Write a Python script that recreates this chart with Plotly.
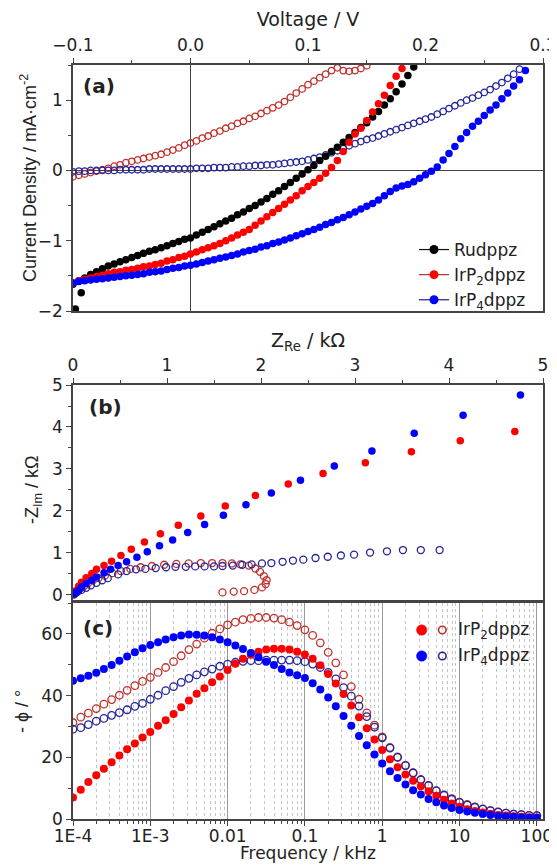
import plotly.graph_objects as go

# ---------------- Panel (a): J-V data ----------------
voltage_V = [
    -0.100, -0.095, -0.090, -0.085, -0.080, -0.075, -0.070, -0.065, -0.060, -0.055,
    -0.050, -0.045, -0.040, -0.035, -0.030, -0.025, -0.020, -0.015, -0.010, -0.005,
    0.000, 0.005, 0.010, 0.015, 0.020, 0.025, 0.030, 0.035, 0.040, 0.045,
    0.050, 0.055, 0.060, 0.065, 0.070, 0.075, 0.080, 0.085, 0.090, 0.095,
    0.100, 0.105, 0.110, 0.115, 0.120, 0.125, 0.130, 0.135, 0.140, 0.145,
    0.150, 0.155, 0.160, 0.165, 0.170, 0.175, 0.180, 0.185, 0.190, 0.195,
    0.200, 0.205, 0.210, 0.215, 0.220, 0.225, 0.230, 0.235, 0.240, 0.245,
    0.250, 0.255, 0.260, 0.265, 0.270, 0.275, 0.280, 0.285,
]

ru_start_V = [-0.098, -0.093]
ru_start_J = [-1.97, -1.74]

ru_J = [
    -1.62, -1.57, -1.53, -1.48, -1.44, -1.40, -1.36, -1.33, -1.30, -1.27,
    -1.24, -1.21, -1.18, -1.15, -1.13, -1.10, -1.07, -1.04, -1.01, -0.98,
    -0.96, -0.92, -0.88, -0.84, -0.80, -0.76, -0.72, -0.68, -0.63, -0.59,
    -0.54, -0.50, -0.45, -0.40, -0.34, -0.29, -0.23, -0.17, -0.11, -0.05,
    0.01, 0.07, 0.14, 0.20, 0.27, 0.33, 0.40, 0.47, 0.54, 0.61,
    0.68, 0.76, 0.84, 0.93, 1.02, 1.12, 1.23, 1.35, 1.47,
]

irp2_filled_J = [
    -1.60, -1.57, -1.55, -1.53, -1.51, -1.49, -1.47, -1.45, -1.44, -1.42,
    -1.41, -1.39, -1.37, -1.36, -1.34, -1.32, -1.29, -1.27, -1.24, -1.22,
    -1.19, -1.16, -1.13, -1.10, -1.07, -1.04, -1.00, -0.96, -0.92, -0.88,
    -0.84, -0.78, -0.72, -0.66, -0.60, -0.54, -0.48, -0.42, -0.36, -0.29,
    -0.23, -0.17, -0.11, -0.04, 0.04, 0.14, 0.27, 0.40, 0.52, 0.60,
    0.71, 0.83, 0.95, 1.07, 1.21, 1.34, 1.45,
]

irp2_open_J = [
    -0.09, -0.07, -0.05, -0.03, -0.01, 0.01, 0.03, 0.06, 0.08, 0.11,
    0.13, 0.15, 0.17, 0.19, 0.21, 0.23, 0.26, 0.29, 0.32, 0.36,
    0.39, 0.42, 0.46, 0.49, 0.53, 0.56, 0.60, 0.63, 0.67, 0.70,
    0.74, 0.77, 0.81, 0.85, 0.89, 0.93, 0.98, 1.04, 1.10, 1.16,
    1.22, 1.27, 1.32, 1.37, 1.42, 1.46, 1.42, 1.41, 1.42, 1.45,
    1.49,
]

irp4_filled_J = [
    -1.60, -1.58, -1.57, -1.56, -1.55, -1.54, -1.53, -1.52, -1.51, -1.50,
    -1.49, -1.48, -1.47, -1.45, -1.44, -1.43, -1.41, -1.39, -1.38, -1.36,
    -1.35, -1.33, -1.31, -1.29, -1.27, -1.25, -1.23, -1.21, -1.19, -1.16,
    -1.14, -1.12, -1.09, -1.07, -1.04, -1.02, -0.99, -0.96, -0.93, -0.90,
    -0.87, -0.84, -0.81, -0.77, -0.74, -0.70, -0.67, -0.63, -0.59, -0.55,
    -0.51, -0.47, -0.42, -0.36, -0.30, -0.25, -0.22, -0.20, -0.16, -0.11,
    -0.06, -0.01, 0.05, 0.15, 0.24, 0.34, 0.45, 0.54, 0.63, 0.70,
    0.78, 0.86, 0.93, 1.02, 1.10, 1.20, 1.29, 1.42,
]

irp4_open_J = [
    -0.02, -0.01, -0.01, 0.00, 0.00, 0.00, 0.00, 0.00, 0.01, 0.01,
    0.01, 0.01, 0.01, 0.02, 0.02, 0.02, 0.02, 0.02, 0.02, 0.02,
    0.02, 0.03, 0.03, 0.03, 0.04, 0.04, 0.04, 0.05, 0.05, 0.06,
    0.06, 0.07, 0.07, 0.08, 0.08, 0.09, 0.10, 0.11, 0.12, 0.13,
    0.15, 0.17, 0.19, 0.22, 0.25, 0.28, 0.31, 0.35, 0.38, 0.41,
    0.44, 0.46, 0.49, 0.52, 0.55, 0.58, 0.61, 0.64, 0.67, 0.70,
    0.73, 0.76, 0.80, 0.84, 0.88, 0.92, 0.96, 1.00, 1.03, 1.07,
    1.11, 1.15, 1.20, 1.25, 1.31, 1.37, 1.44,
]

# ---------------- Panel (b): Nyquist data (kOhm) ----------------
irp2_filled_zre = [0.01, 0.03, 0.06, 0.09, 0.14, 0.20, 0.25, 0.33, 0.41, 0.51,
                   0.62, 0.76, 0.93, 1.12, 1.36, 1.62, 1.94, 2.29, 2.66, 3.11,
                   3.60, 4.12, 4.70]
irp2_filled_zim = [0.03, 0.10, 0.21, 0.30, 0.41, 0.51, 0.61, 0.70, 0.80, 0.94,
                   1.09, 1.26, 1.46, 1.66, 1.88, 2.12, 2.37, 2.64, 2.89, 3.15,
                   3.41, 3.67, 3.89]

irp4_filled_zre = [0.01, 0.03, 0.06, 0.09, 0.14, 0.20, 0.25, 0.33, 0.40, 0.48,
                   0.57, 0.68, 0.79, 0.92, 1.06, 1.22, 1.40, 1.60, 1.84, 2.11,
                   2.42, 2.78, 3.18, 3.63, 4.15, 4.76]
irp4_filled_zim = [0.02, 0.05, 0.11, 0.19, 0.27, 0.35, 0.43, 0.53, 0.61, 0.70,
                   0.79, 0.90, 1.03, 1.17, 1.31, 1.49, 1.68, 1.90, 2.15, 2.43,
                   2.73, 3.07, 3.43, 3.85, 4.28, 4.76]

irp2_open_zre = [0.01, 0.02, 0.04, 0.06, 0.09, 0.12, 0.16, 0.21, 0.27, 0.34,
                 0.42, 0.51, 0.61, 0.72, 0.84, 0.97, 1.10, 1.23, 1.36, 1.48,
                 1.59, 1.69, 1.78, 1.87, 1.94, 1.99, 2.03, 2.06, 2.05, 2.01,
                 1.93, 1.82, 1.71, 1.59]
irp2_open_zim = [0.01, 0.04, 0.08, 0.12, 0.17, 0.22, 0.28, 0.34, 0.40, 0.46,
                 0.52, 0.57, 0.62, 0.66, 0.69, 0.72, 0.74, 0.75, 0.76, 0.76,
                 0.76, 0.75, 0.73, 0.70, 0.63, 0.55, 0.45, 0.35, 0.26, 0.18,
                 0.12, 0.09, 0.08, 0.06]

irp4_open_zre = [0.01, 0.03, 0.05, 0.09, 0.14, 0.19, 0.25, 0.31, 0.37, 0.48,
                 0.57, 0.67, 0.77, 0.88, 0.99, 1.09, 1.20, 1.30, 1.40, 1.50,
                 1.59, 1.70, 1.80, 1.90, 2.01, 2.11, 2.23, 2.34, 2.45, 2.58,
                 2.71, 2.85, 2.99, 3.16, 3.34, 3.51, 3.70, 3.90]
irp4_open_zim = [0.02, 0.05, 0.08, 0.12, 0.17, 0.23, 0.29, 0.35, 0.40, 0.49,
                 0.57, 0.61, 0.62, 0.64, 0.66, 0.67, 0.67, 0.68, 0.68, 0.68,
                 0.69, 0.70, 0.72, 0.73, 0.75, 0.76, 0.79, 0.82, 0.84, 0.88,
                 0.91, 0.94, 0.96, 1.01, 1.04, 1.07, 1.07, 1.07]

# ---------------- Panel (c): Bode phase data ----------------
freq_kHz = [
    1.00e-4, 1.26e-4, 1.58e-4, 2.00e-4, 2.51e-4, 3.16e-4, 3.98e-4, 5.01e-4, 6.31e-4, 7.94e-4,
    1.00e-3, 1.26e-3, 1.58e-3, 2.00e-3, 2.51e-3, 3.16e-3, 3.98e-3, 5.01e-3, 6.31e-3, 7.94e-3,
    1.00e-2, 1.26e-2, 1.58e-2, 2.00e-2, 2.51e-2, 3.16e-2, 3.98e-2, 5.01e-2, 6.31e-2, 7.94e-2,
    1.00e-1, 1.26e-1, 1.58e-1, 2.00e-1, 2.51e-1, 3.16e-1, 3.98e-1, 5.01e-1, 6.31e-1, 7.94e-1,
    1.00, 1.26, 1.58, 2.00, 2.51, 3.16, 3.98, 5.01, 6.31, 7.94,
    10.0, 12.6, 15.8, 20.0, 25.1, 31.6, 39.8, 50.1, 63.1, 79.4,
    100.0,
]

irp2_filled_phase = [
    7.0, 9.5, 12.0, 14.2, 16.3, 18.4, 20.6, 22.6, 24.5, 26.4,
    28.2, 30.2, 32.0, 34.0, 36.2, 38.4, 40.6, 42.4, 44.3, 46.2,
    48.3, 50.3, 51.9, 53.2, 54.2, 54.9, 55.2, 55.2, 54.9, 54.2,
    53.3, 51.9, 49.8, 47.0, 43.9, 40.5, 36.8, 33.0, 29.4, 25.8,
    22.4, 19.4, 16.8, 14.4, 12.4, 10.6, 9.0, 7.5, 6.2, 5.0,
    4.0, 3.2, 2.6, 2.1, 1.7, 1.3, 1.1, 0.9, 0.7, 0.6,
    0.5,
]
irp2_open_phase = [
    31.2, 33.0, 34.3, 35.8, 37.2, 38.7, 40.1, 41.7, 43.2, 44.6,
    45.9, 47.5, 49.1, 51.0, 52.9, 54.9, 56.7, 58.6, 60.2, 61.6,
    62.9, 63.8, 64.6, 65.0, 65.3, 65.3, 65.1, 64.6, 63.8, 62.7,
    61.3, 59.5, 57.1, 54.0, 50.6, 46.7, 42.9, 38.8, 34.4, 30.4,
    26.6, 23.2, 20.1, 17.4, 15.0, 12.8, 10.9, 9.2, 7.8, 6.6,
    5.5, 4.7, 3.9, 3.3, 2.7, 2.3, 1.9, 1.6, 1.4, 1.2,
    1.1,
]
irp4_filled_phase = [
    44.8, 45.6, 46.4, 47.4, 48.6, 49.9, 51.3, 52.7, 54.0, 55.3,
    56.4, 57.3, 58.2, 58.9, 59.5, 59.8, 59.7, 59.5, 58.9, 58.2,
    57.3, 56.2, 55.1, 53.8, 52.4, 51.0, 49.9, 48.6, 47.5, 46.6,
    45.7, 44.0, 42.0, 39.4, 36.5, 33.4, 30.2, 26.9, 23.9, 20.9,
    18.0, 15.5, 13.3, 11.2, 9.3, 7.9, 6.5, 5.4, 4.4, 3.6,
    2.9, 2.4, 2.0, 1.6, 1.3, 1.0, 0.8, 0.7, 0.5, 0.4,
    0.4,
]
irp4_open_phase = [
    29.1, 29.6, 30.6, 31.7, 32.6, 33.6, 34.5, 35.4, 36.5, 37.5,
    38.8, 40.1, 41.6, 42.9, 44.3, 45.6, 46.7, 47.7, 48.6, 49.5,
    50.2, 50.8, 51.1, 51.3, 51.3, 51.5, 51.5, 51.5, 51.5, 51.3,
    51.0, 50.2, 49.1, 47.5, 45.4, 42.6, 39.8, 36.6, 33.2, 29.8,
    26.3, 23.0, 20.0, 17.3, 14.9, 12.7, 10.8, 9.1, 7.7, 6.4,
    5.4, 4.5, 3.8, 3.2, 2.7, 2.2, 1.9, 1.6, 1.4, 1.2,
    1.1,
]

freq_tickvals = [1e-4, 1e-3, 1e-2, 1e-1, 1, 10, 100]
freq_ticktext = ["1E-4", "1E-3", "0.01", "0.1", "1", "10", "100"]

# ---------------- styling ----------------
RED = "#ff0000"
BLUE = "#0000ff"
ORED = "#c0302a"
OBLUE = "#24249c"
LRED = "#b03030"
LBLUE = "#1e1e8c"
AX = "#444444"

# The page body has an 8 px default margin, so the figure is drawn 8 px
# right/down of the window origin; size and margins compensate for it.
OFF = 8
W, H = 557 - OFF, 865 - OFF
ML, MR, MT, MB = 73 - OFF, 14, 65 - OFF, 46
PW, PH = W - ML - MR, H - MT - MB


def px_x(x):
    # window pixel x -> paper fraction
    return (x - OFF - ML) / PW


def px_y(y):
    # window pixel y -> paper fraction
    return (H - MB - (y - OFF)) / PH


fig = go.Figure()


def filled(x, y, color, size, xa, ya):
    return go.Scatter(x=x, y=y, mode="markers", xaxis=xa, yaxis=ya, showlegend=False,
                      marker=dict(symbol="circle", size=size, color=color, line=dict(width=0)),
                      hoverinfo="skip")


def opened(x, y, color, size, xa, ya, lw=1.3):
    return go.Scatter(x=x, y=y, mode="markers", xaxis=xa, yaxis=ya, showlegend=False,
                      marker=dict(symbol="circle-open", size=size, color=color, line=dict(width=lw)),
                      hoverinfo="skip")


# panel (a)
fig.add_trace(opened(voltage_V[:len(irp2_open_J)], irp2_open_J, ORED, 6.5, "x", "y"))
fig.add_trace(opened(voltage_V[:len(irp4_open_J)], irp4_open_J, OBLUE, 6.5, "x", "y"))
fig.add_trace(filled(ru_start_V + voltage_V[:len(ru_J)], ru_start_J + ru_J, "#000000", 7.5, "x", "y"))
fig.add_trace(filled(voltage_V[:len(irp2_filled_J)], irp2_filled_J, RED, 7.5, "x", "y"))
fig.add_trace(filled(voltage_V[:len(irp4_filled_J)], irp4_filled_J, BLUE, 7.5, "x", "y"))

# legend entries for panel (a)
for name, lc, mc in [("Rudppz", "#111111", "#000000"),
                     ("IrP<sub>2</sub>dppz", LRED, RED),
                     ("IrP<sub>4</sub>dppz", LBLUE, BLUE)]:
    fig.add_trace(go.Scatter(x=[None], y=[None], mode="lines+markers", name=name,
                             xaxis="x", yaxis="y", showlegend=True,
                             line=dict(color=lc, width=1.2),
                             marker=dict(symbol="circle", size=9, color=mc)))

# panel (b)
fig.add_trace(opened(irp2_open_zre, irp2_open_zim, ORED, 7, "x2", "y2"))
fig.add_trace(opened(irp4_open_zre, irp4_open_zim, OBLUE, 7, "x2", "y2"))
fig.add_trace(filled(irp2_filled_zre, irp2_filled_zim, RED, 7.5, "x2", "y2"))
fig.add_trace(filled(irp4_filled_zre, irp4_filled_zim, BLUE, 7.5, "x2", "y2"))

# panel (c)
fig.add_trace(opened(freq_kHz, irp2_open_phase, ORED, 7.5, "x3", "y3"))
fig.add_trace(opened(freq_kHz, irp4_open_phase, OBLUE, 7.5, "x3", "y3"))
fig.add_trace(filled(freq_kHz, irp2_filled_phase, RED, 8, "x3", "y3"))
fig.add_trace(filled(freq_kHz, irp4_filled_phase, BLUE, 8, "x3", "y3"))

TICKFONT = dict(family="DejaVu Sans", size=17, color="#222222")
TITLEFONT = dict(family="DejaVu Sans", size=19, color="#222222")
YTITLEFONT = dict(family="Liberation Sans", size=18, color="#222222")

base = dict(showline=True, linecolor=AX, linewidth=1.5, mirror=True,
            ticks="outside", ticklen=5, tickwidth=1.2, tickcolor=AX,
            showgrid=False, zeroline=False, tickfont=TICKFONT, automargin=False)

dom_a = [px_y(311), 1.0]
dom_b = [px_y(600), px_y(385)]
dom_c = [0.0, px_y(603)]

minor_log = [m * 10.0 ** e for e in range(-4, 3) for m in range(2, 10) if m * 10.0 ** e < 120]

fig.update_layout(
    width=W, height=H,
    margin=dict(l=ML, r=MR, t=MT, b=MB, autoexpand=False),
    paper_bgcolor="white", plot_bgcolor="white",
    font=dict(family="DejaVu Sans", size=17, color="#222222"),
    showlegend=True,
    legend=dict(x=px_x(414), y=px_y(232), xanchor="left", yanchor="top",
                bgcolor="rgba(0,0,0,0)", borderwidth=0,
                font=dict(family="DejaVu Sans", size=17, color="#222222"),
                tracegroupgap=0),
    xaxis=dict(base, domain=[0, 1], anchor="y", side="top", range=[-0.1, 0.3],
               tick0=-0.1, dtick=0.1, tickformat=".1f",
               minor=dict(dtick=0.05, ticks="outside", ticklen=3, tickcolor=AX),
               zeroline=True, zerolinecolor=AX, zerolinewidth=1.3,
               title=dict(text="Voltage / V", font=TITLEFONT, standoff=4)),
    yaxis=dict(base, domain=dom_a, anchor="x", range=[-2, 1.5], tick0=0, dtick=1,
               minor=dict(dtick=0.5, ticks="outside", ticklen=3, tickcolor=AX),
               zeroline=True, zerolinecolor=AX, zerolinewidth=1.3),
    xaxis2=dict(base, domain=[0, 1], anchor="y2", side="top", range=[0, 5], dtick=1,
                minor=dict(dtick=0.5, ticks="outside", ticklen=3, tickcolor=AX),
                title=dict(text="Z<sub>Re</sub> / kΩ", font=TITLEFONT, standoff=3)),
    yaxis2=dict(base, domain=dom_b, anchor="x2", range=[-0.12, 5], tick0=0, dtick=1,
                minor=dict(dtick=0.5, ticks="outside", ticklen=3, tickcolor=AX)),
    xaxis3=dict(base, domain=[0, 1], anchor="y3", type="log", range=[-4, 2.08],
                tickmode="array", tickvals=freq_tickvals, ticktext=freq_ticktext,
                ticklabelstandoff=-4,
                showgrid=True, gridcolor="#9a9a9a", gridwidth=1,
                minor=dict(tickmode="array", tickvals=minor_log, ticks="outside", ticklen=3,
                           tickcolor=AX, showgrid=True, gridcolor="#c4c4c4", griddash="dot",
                           gridwidth=1)),
    yaxis3=dict(base, domain=dom_c, anchor="x3", range=[0, 70], tick0=0, dtick=20,
                minor=dict(dtick=10, ticks="outside", ticklen=3, tickcolor=AX)),
)

# y-axis titles placed as rotated text at the reference positions
for txt, x, y in [("Current Density / mA·cm<sup>-2</sup>", 28, 178),
                  ("-Z<sub>Im</sub> / kΩ", 33, 490),
                  ("- ϕ / °", 22, 712)]:
    fig.add_annotation(text=txt, x=px_x(x), y=px_y(y), xref="paper", yref="paper",
                       xanchor="center", yanchor="middle", textangle=-90, showarrow=False,
                       font=YTITLEFONT)

# bottom axis title of panel (c), placed as text so it stays inside the page
fig.add_annotation(text="Frequency / kHz", x=0.5, y=px_y(865), xref="paper", yref="paper",
                   xanchor="center", yanchor="bottom", showarrow=False,
                   font=dict(TITLEFONT, size=17))

# panel labels
for lab, x, y in [("(a)", 81, 86), ("(b)", 87, 407), ("(c)", 81, 628)]:
    fig.add_annotation(text="<b>%s</b>" % lab, x=px_x(x), y=px_y(y), xref="paper", yref="paper",
                       xanchor="left", yanchor="middle", showarrow=False,
                       font=dict(family="DejaVu Sans", size=20, color="#222222"))

# panel (c) legend: filled + open symbol pairs followed by the label
for label, fc, oc, cy in [("IrP<sub>2</sub>dppz", RED, ORED, 630),
                          ("IrP<sub>4</sub>dppz", BLUE, OBLUE, 656)]:
    r1, r2 = 5.2, 3.8
    fig.add_shape(type="circle", xref="paper", yref="paper",
                  x0=px_x(421.7 - r1), x1=px_x(421.7 + r1),
                  y0=px_y(cy + r1), y1=px_y(cy - r1),
                  fillcolor=fc, line=dict(color=fc, width=0.5))
    fig.add_shape(type="circle", xref="paper", yref="paper",
                  x0=px_x(442.3 - r2), x1=px_x(442.3 + r2),
                  y0=px_y(cy + r2), y1=px_y(cy - r2),
                  fillcolor="rgba(0,0,0,0)", line=dict(color=oc, width=1.6))
    fig.add_annotation(text=label, x=px_x(456), y=px_y(cy), xref="paper", yref="paper",
                       xanchor="left", yanchor="middle", showarrow=False,
                       font=dict(family="DejaVu Sans", size=17, color="#222222"))

fig.write_html("out.html")
